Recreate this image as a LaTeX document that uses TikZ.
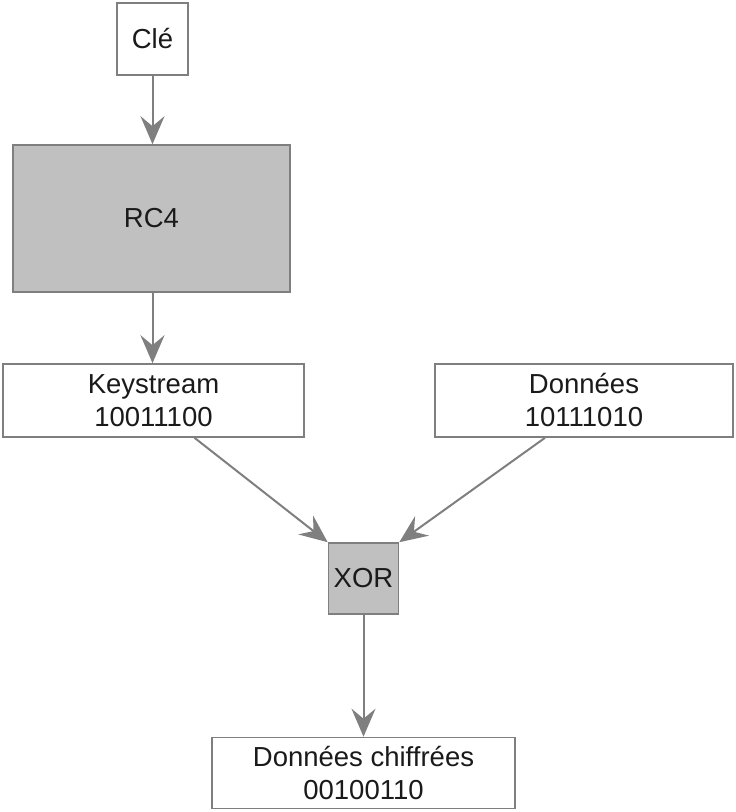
\documentclass[tikz,border=0pt]{standalone}
\usepackage{fontspec}
\setmainfont{Liberation Sans}
\usetikzlibrary{arrows.meta}
\definecolor{edgegray}{HTML}{7F7F7F}
\definecolor{boxgray}{HTML}{C0C0C0}
\definecolor{inkdark}{HTML}{1A1A1A}
\begin{document}
\begin{tikzpicture}[x=1pt,y=-1pt,
  block/.style={draw=edgegray, line width=1.6pt, fill=white, inner sep=0pt,
    text=inkdark, align=center, font=\fontsize{27.5}{33}\selectfont},
  shaded/.style={block, fill=boxgray},
  flow/.style={draw=edgegray, line width=2pt,
    -{Stealth[length=28pt,width=24pt,inset=10pt]}}]
\useasboundingbox (0,0) rectangle (736,812);
% boxes, given by their corners
\node[block, minimum width=71pt, minimum height=72pt] (key) at (152.5,39) {Clé};
\node[shaded, minimum width=277pt, minimum height=147pt] (rc4) at (151.5,218.5) {RC4};
\node[block, minimum width=301pt, minimum height=73pt] (ks) at (153.5,400.5) {Keystream\\10011100};
\node[block, minimum width=298pt, minimum height=73pt] (data) at (584,400.5) {Données\\10111010};
\node[shaded, minimum width=70pt, minimum height=71pt] (xor) at (363.5,578.5) {XOR};
\node[block, minimum width=303pt, minimum height=71pt] (out) at (363.5,773) {Données chiffrées\\00100110};
% connectors
\draw[flow] (key.south) -- (key.south |- rc4.north);
\draw[flow] (key.south |- rc4.south) -- (key.south |- ks.north);
\draw[flow] ([xshift=41pt]ks.south) -- (xor.north west);
\draw[flow] ([xshift=-39pt]data.south) -- (xor.north east);
\draw[flow] (xor.south) -- (out.north);
\end{tikzpicture}
\end{document}
